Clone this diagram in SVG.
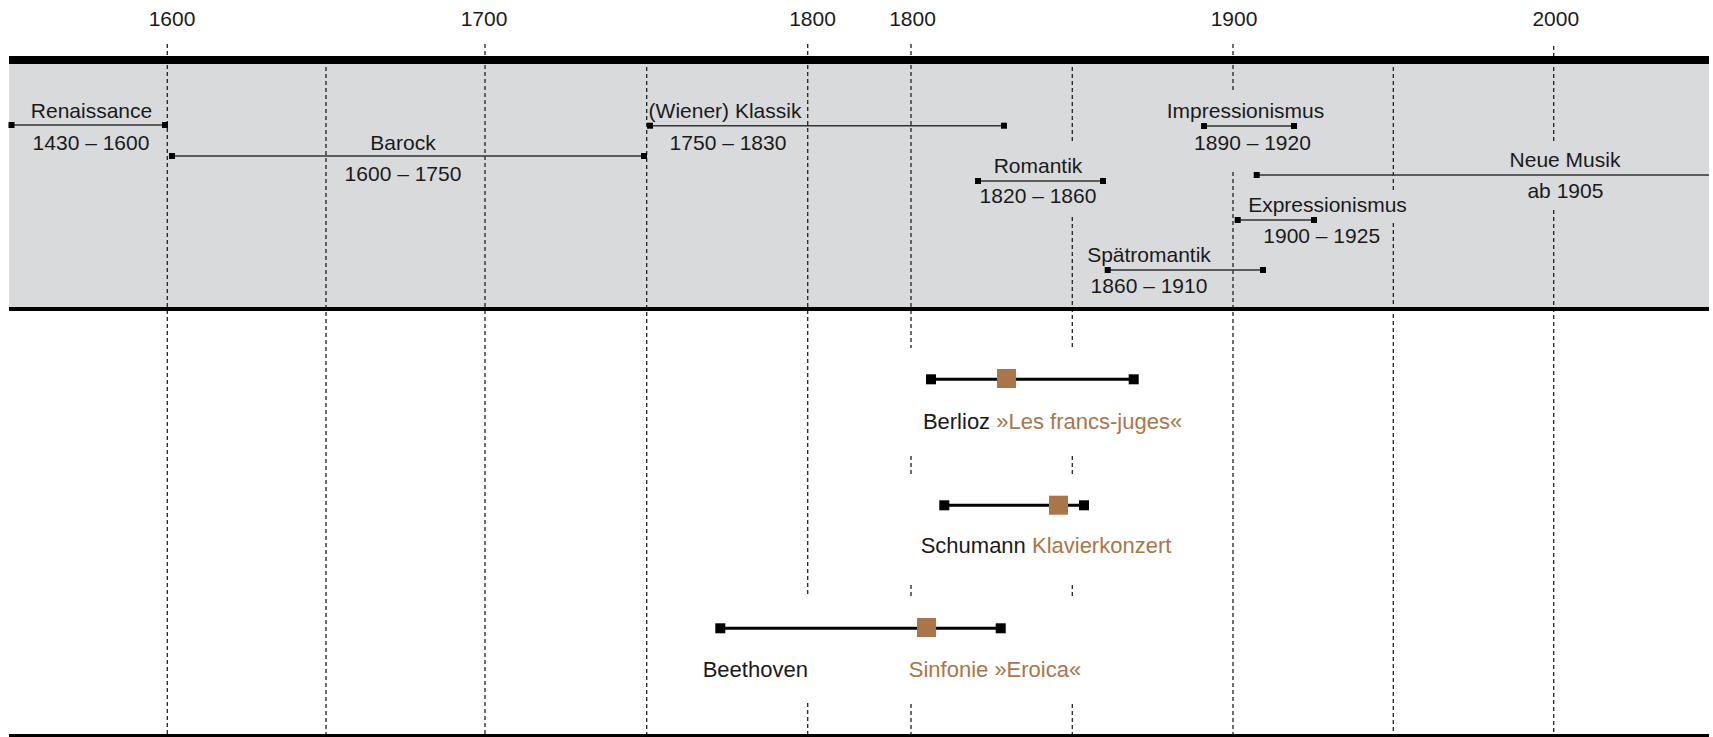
<svg xmlns="http://www.w3.org/2000/svg" width="1713" height="737" viewBox="0 0 1713 737">
<defs>
<style>
text{font-family:"Liberation Sans",Arial,sans-serif;fill:#1a1a1a}
.yr{font-size:21px;text-anchor:middle}
.pl{font-size:21px;text-anchor:middle}
.wl{font-size:22px}
.br{fill:#AA7647}
.grid{stroke:#222;stroke-width:1.3;stroke-dasharray:4 3;fill:none}
.span{stroke:#333;stroke-width:1.5}
.wspan{stroke:#000;stroke-width:3}
.sq{fill:#000}
.bsq{fill:#AA7647}
</style>
</defs>
<rect x="9" y="64" width="1700" height="244" fill="#D9DADC"/>
<g id="grid">
<path class="grid" d="M167.3 44V734M326 60V734M485 44V734M646.7 60V734M807.7 44V597M807.7 703V734M911 44V348M911 456V475M911 585V597M911 704V734M1072.3 60V143M1072.3 217V348M1072.3 456V475M1072.3 585V597M1072.3 704V734M1233 44V93M1233 172V734M1393.3 60V193M1393.3 223V734M1553.7 46V142M1553.7 210V734"/>
</g>
<rect x="9" y="56" width="1700" height="8" fill="#000"/>
<rect x="9" y="307" width="1700" height="4" fill="#000"/>
<rect x="9" y="734" width="1700" height="4" fill="#000"/>
<g id="axis">
<text class="yr" x="172" y="26">1600</text>
<text class="yr" x="484" y="26">1700</text>
<text class="yr" x="812.5" y="26">1800</text>
<text class="yr" x="912.5" y="26">1800</text>
<text class="yr" x="1234" y="26">1900</text>
<text class="yr" x="1555.8" y="26">2000</text>
</g>
<g id="connectors">
<line class="span" x1="11.5" y1="125" x2="165" y2="125"/>
<line class="span" x1="172" y1="156" x2="644" y2="156"/>
<line class="span" x1="650" y1="125.7" x2="1004" y2="125.7"/>
<line class="span" x1="978" y1="181" x2="1103" y2="181"/>
<line class="span" x1="1204" y1="126" x2="1294" y2="126"/>
<line class="span" x1="1256.7" y1="175" x2="1709" y2="175"/>
<line class="span" x1="1237.7" y1="220" x2="1314" y2="220"/>
<line class="span" x1="1107.7" y1="270" x2="1263" y2="270"/>
<line class="wspan" x1="931" y1="379.3" x2="1133.7" y2="379.3"/>
<line class="wspan" x1="944.3" y1="505.3" x2="1084" y2="505.3"/>
<line class="wspan" x1="720.3" y1="628.3" x2="1000.7" y2="628.3"/>
</g>
<g id="renaissance">
<rect class="sq" x="8.5" y="122" width="6" height="6"/>
<rect class="sq" x="162" y="122" width="6" height="6"/>
<text class="pl" x="91.5" y="118.3">Renaissance</text>
<text class="pl" x="91" y="150">1430 – 1600</text>
</g>
<g id="barock">
<rect class="sq" x="169" y="153" width="6" height="6"/>
<rect class="sq" x="641" y="153" width="6" height="6"/>
<text class="pl" x="403" y="150">Barock</text>
<text class="pl" x="403" y="181">1600 – 1750</text>
</g>
<g id="klassik">
<rect class="sq" x="647" y="122.7" width="6" height="6"/>
<rect class="sq" x="1001" y="122.7" width="6" height="6"/>
<text class="pl" x="725" y="118.3">(Wiener) Klassik</text>
<text class="pl" x="728" y="150">1750 – 1830</text>
</g>
<g id="romantik">
<rect class="sq" x="975" y="178" width="6" height="6"/>
<rect class="sq" x="1100" y="178" width="6" height="6"/>
<text class="pl" x="1038" y="172.7">Romantik</text>
<text class="pl" x="1038" y="203.3">1820 – 1860</text>
</g>
<g id="impressionismus">
<rect class="sq" x="1201" y="123" width="6" height="6"/>
<rect class="sq" x="1291" y="123" width="6" height="6"/>
<text class="pl" x="1245.5" y="118.3">Impressionismus</text>
<text class="pl" x="1252.5" y="150">1890 – 1920</text>
</g>
<g id="neue-musik">
<rect class="sq" x="1253.7" y="172" width="6" height="6"/>
<text class="pl" x="1565" y="166.7">Neue Musik</text>
<text class="pl" x="1565.4" y="197.7">ab 1905</text>
</g>
<g id="expressionismus">
<rect class="sq" x="1234.7" y="217" width="6" height="6"/>
<rect class="sq" x="1311" y="217" width="6" height="6"/>
<text class="pl" x="1327.5" y="211.7">Expressionismus</text>
<text class="pl" x="1321.7" y="242.7">1900 – 1925</text>
</g>
<g id="spaetromantik">
<rect class="sq" x="1104.7" y="267" width="6" height="6"/>
<rect class="sq" x="1260" y="267" width="6" height="6"/>
<text class="pl" x="1149" y="261.7">Spätromantik</text>
<text class="pl" x="1149" y="292.7">1860 – 1910</text>
</g>
<g id="berlioz">
<rect class="sq" x="926" y="374.3" width="10" height="10"/>
<rect class="sq" x="1128.7" y="374.3" width="10" height="10"/>
<rect class="bsq" x="997" y="369" width="19" height="19"/>
<text class="wl" x="1052.5" y="429" text-anchor="middle">Berlioz <tspan class="br">»Les francs-juges«</tspan></text>
</g>
<g id="schumann">
<rect class="sq" x="939.3" y="500.3" width="10" height="10"/>
<rect class="sq" x="1079" y="500.3" width="10" height="10"/>
<rect class="bsq" x="1049" y="495.7" width="19" height="19"/>
<text class="wl" x="1046" y="552.7" text-anchor="middle">Schumann <tspan class="br">Klavierkonzert</tspan></text>
</g>
<g id="beethoven">
<rect class="sq" x="715.3" y="623.3" width="10" height="10"/>
<rect class="sq" x="995.7" y="623.3" width="10" height="10"/>
<rect class="bsq" x="917" y="618" width="19" height="19"/>
<text class="wl" x="755.3" y="676.7" text-anchor="middle">Beethoven</text>
<text class="wl br" x="995" y="676.7" text-anchor="middle">Sinfonie »Eroica«</text>
</g>
</svg>
